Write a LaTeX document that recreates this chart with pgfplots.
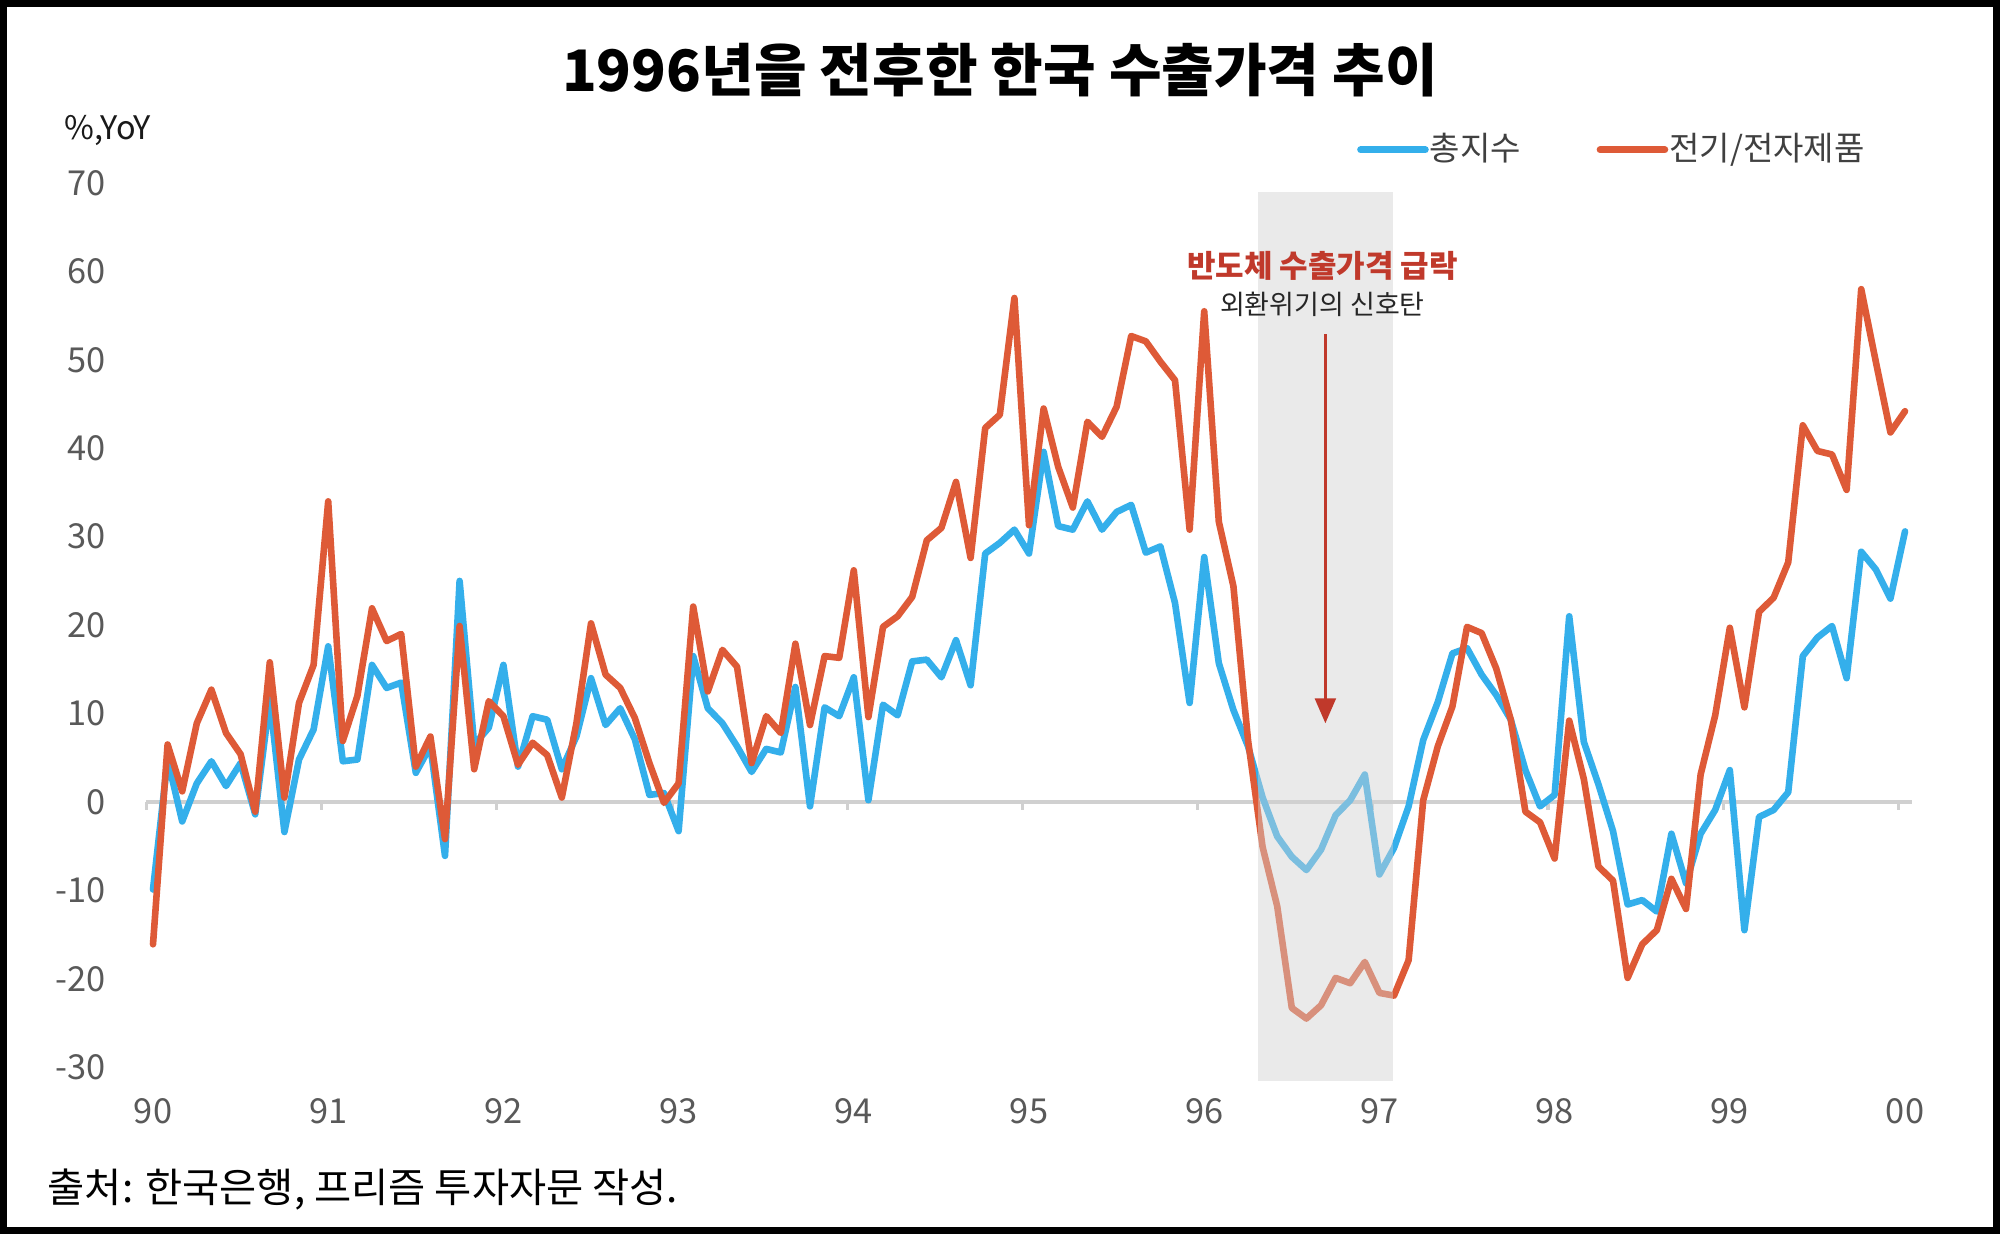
\documentclass[border=0pt]{standalone}
\usepackage{fontspec}
\setmainfont{Noto Sans CJK KR}
\usepackage{pgfplots}
\usepackage{pgfplotstable}
\pgfplotsset{compat=1.18}
\usetikzlibrary{arrows.meta}
\definecolor{cblue}{RGB}{52,175,235}
\definecolor{cred}{RGB}{222,90,55}
\definecolor{ann}{RGB}{192,57,43}
\definecolor{ticktext}{RGB}{89,89,89}
\definecolor{legtext}{RGB}{64,64,64}
\definecolor{shadec}{RGB}{210,210,210}
\definecolor{zline}{RGB}{208,208,208}

\pgfplotstableread{
m red blue
0 -16.1 -9.9
1 6.5 4.8
2 1.2 -2.2
3 8.9 2.1
4 12.7 4.6
5 7.8 1.8
6 5.4 4.4
7 -1.1 -1.4
8 15.8 11.6
9 0.5 -3.4
10 11.2 4.8
11 15.5 8.2
12 34.0 17.6
13 6.9 4.6
14 12.0 4.8
15 21.9 15.5
16 18.2 12.9
17 19.0 13.5
18 4.0 3.3
19 7.4 6.3
20 -4.2 -6.1
21 19.9 25.0
22 3.7 6.5
23 11.4 8.4
24 9.7 15.5
25 4.2 4.0
26 6.7 9.7
27 5.3 9.3
28 0.5 3.7
29 8.9 7.4
30 20.2 14.0
31 14.4 8.7
32 12.9 10.6
33 9.5 7.1
34 4.4 0.8
35 -0.1 1.0
36 2.1 -3.3
37 22.1 16.5
38 12.5 10.6
39 17.2 8.9
40 15.3 6.3
41 4.4 3.4
42 9.7 6.0
43 7.8 5.6
44 17.9 13.0
45 8.7 -0.5
46 16.5 10.7
47 16.3 9.7
48 26.2 14.1
49 9.6 0.2
50 19.8 11.0
51 21.0 9.8
52 23.2 15.9
53 29.6 16.1
54 31.0 14.1
55 36.2 18.3
56 27.6 13.2
57 42.3 28.1
58 43.8 29.3
59 57.0 30.8
60 31.3 28.1
61 44.5 39.6
62 37.9 31.2
63 33.3 30.8
64 43.0 34.0
65 41.3 30.8
66 44.7 32.8
67 52.7 33.6
68 52.1 28.2
69 49.8 28.9
70 47.7 22.5
71 30.8 11.2
72 55.5 27.7
73 31.7 15.7
74 24.4 10.4
75 7.0 6.3
76 -5.1 0.5
77 -11.8 -3.9
78 -23.3 -6.2
79 -24.5 -7.7
80 -23.0 -5.4
81 -19.9 -1.5
82 -20.5 0.2
83 -18.1 3.1
84 -21.6 -8.2
85 -21.9 -5.2
86 -17.9 -0.5
87 0.2 7.0
88 6.3 11.3
89 10.8 16.8
90 19.8 17.4
91 19.1 14.4
92 15.1 12.1
93 9.3 9.3
94 -1.1 3.6
95 -2.3 -0.5
96 -6.4 0.8
97 9.2 21.0
98 2.6 6.8
99 -7.3 2.0
100 -8.9 -3.3
101 -19.9 -11.6
102 -16.1 -11.1
103 -14.5 -12.4
104 -8.7 -3.6
105 -12.1 -9.2
106 3.1 -3.6
107 9.8 -0.9
108 19.7 3.6
109 10.7 -14.5
110 21.5 -1.7
111 23.1 -0.9
112 27.1 1.1
113 42.6 16.5
114 39.7 18.6
115 39.3 19.9
116 35.3 14.0
117 58.0 28.3
118 49.8 26.3
119 41.8 23.0
120 44.2 30.6
}\data

\begin{document}
\begin{tikzpicture}[x=1pt,y=1pt]
\useasboundingbox (0,0) rectangle (500,309.75);
\fill[white] (0,0) rectangle (500,309.75);
\begin{axis}[
  at={(36.425pt,31.9pt)}, anchor=south west,
  scale only axis, width=441.65pt, height=236.5pt,
  xmin=-0.5, xmax=120.5, ymin=-35, ymax=72,
  axis line style={draw=none},
  tick style={draw=none},
  clip=false,
  xtick={0,12,24,36,48,60,72,84,96,108,120},
  xticklabels={90,91,92,93,94,95,96,97,98,99,00},
  ytick={-30,-20,-10,0,10,20,30,40,50,60,70},
  yticklabels={-30,-20,-10,0,10,20,30,40,50,60,70},
  xticklabel style={anchor=center, inner sep=0pt, yshift=0pt, font=\fontsize{8.6}{10}\selectfont, text=ticktext},
  yticklabel style={anchor=east, inner sep=0pt, xshift=-9.9pt, font=\fontsize{8.6}{10}\selectfont, text=ticktext},
  legend style={at={(0.6853,1.0165)}, anchor=west, draw=none, fill=none, inner sep=0pt,
    nodes={inner sep=0pt},
    font=\fontsize{8.25}{10}\selectfont, text=legtext,
    /tikz/every odd column/.append style={column sep=0.3pt},
    /tikz/every even column/.append style={column sep=18.9pt}},
  legend columns=2,
  legend cell align=left,
  legend image code/.code={\draw[#1, line width=1.7pt, line cap=round] (0pt,0pt) -- (16.2pt,0pt);},
]
\draw[zline, line width=0.8pt] (axis cs:-0.45,0) -- (axis cs:120.45,0);
\pgfplotsinvokeforeach{-0.45,11.55,23.55,35.55,47.55,59.55,71.55,83.55,95.55,107.55,119.55}{
  \draw[zline, line width=0.8pt] (axis cs:#1,0) -- ([yshift=-2pt]axis cs:#1,0);
}
\addplot[cblue, line width=1.65pt, line join=round, line cap=round] table[x=m,y=blue]{\data};
\addlegendentry{총지수}
\addplot[cred, line width=1.65pt, line join=round, line cap=round] table[x=m,y=red]{\data};
\addlegendentry{전기/전자제품}
\fill[shadec, opacity=0.45] (axis cs:75.7,-31.6) rectangle (axis cs:84.9,69.0);
\draw[ann, line width=0.6pt, -{Triangle[width=5.25pt,length=6.25pt]}] (axis cs:80.3,52.9) -- (axis cs:80.3,8.9);
\node[font=\bfseries\fontsize{7.75}{9}\selectfont, text=ann] at (axis cs:80.1,60.6) {반도체 수출가격 급락};
\node[font=\fontsize{6.75}{8}\selectfont, text=black!85] at (axis cs:80.1,56.3) {외환위기의 신호탄};
\end{axis}
\node[font=\bfseries\fontsize{14.3}{16}\selectfont] at (250,292.25) {1996년을 전후한 한국 수출가격 추이};
\node[anchor=west, inner sep=0pt, font=\fontsize{8.1}{9}\selectfont, text=black!90] at (16,277.2) {\%,YoY};
\node[anchor=west, inner sep=0pt, font=\fontsize{10.1}{12}\selectfont] at (11.75,12.3) {출처: 한국은행, 프리즘 투자자문 작성.};
\draw[black, line width=1.75pt] (0.875,2) rectangle (499.125,308.875);
\end{tikzpicture}
\end{document}
